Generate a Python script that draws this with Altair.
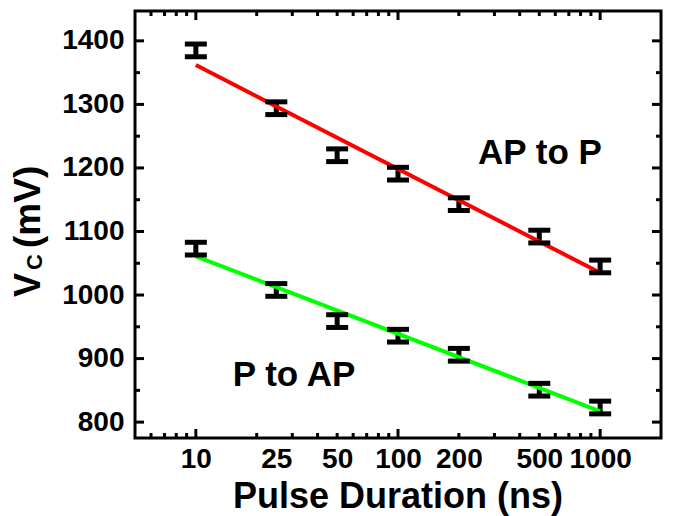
import altair as alt
import pandas as pd

# ---- data ----
durations = [10, 25, 50, 100, 200, 500, 1000]          # ns
ap_to_p = [1385, 1294, 1220, 1191, 1143, 1092, 1045]   # mV
ap_err = [10, 10, 10, 10, 10, 10, 10]
p_to_ap = [1073, 1008, 959, 936, 906, 851, 823]        # mV
pa_err = [10, 10, 10, 10, 10, 10, 10]

fit_x = [10, 1000]
ap_fit = [1362, 1035]
pa_fit = [1061, 817]

x_labels = [10, 25, 50, 100, 200, 500, 1000]
y_labels = [800, 900, 1000, 1100, 1200, 1300, 1400]
x_major_ticks = [10, 100, 1000]
x_minor_ticks = [6, 7, 8, 9, 20, 30, 40, 50, 60, 70, 80, 90,
                 200, 300, 400, 500, 600, 700, 800, 900]
y_major_ticks = [800, 900, 1000, 1100, 1200, 1300, 1400]
y_minor_ticks = [850, 950, 1050, 1150, 1250, 1350]

ann_text = ["AP to P", "P to AP"]
ann_x = [504, 30.6]
ann_y = [1223, 874]

# ---- layout ----
W, H = 526, 427
FONT = "Liberation Sans"
MAJ, MIN = 9, 5

xs = alt.Scale(type="log", domain=[5, 2000], nice=False)
ys = alt.Scale(domain=[775, 1447], nice=False, zero=False)

rows = []
for d, v, e in zip(durations, ap_to_p, ap_err):
    rows.append({"x": d, "v": v, "lo": v - e, "hi": v + e, "s": "AP to P"})
for d, v, e in zip(durations, p_to_ap, pa_err):
    rows.append({"x": d, "v": v, "lo": v - e, "hi": v + e, "s": "P to AP"})
df = pd.DataFrame(rows)

fit_df = pd.DataFrame({
    "x": fit_x + fit_x,
    "y": ap_fit + pa_fit,
    "s": ["AP"] * 2 + ["PA"] * 2,
})

xaxis = alt.Axis(values=x_labels, format="d", labelFont=FONT, labelFontWeight="bold",
                 labelFontSize=28, labelColor="black", labelPadding=7, ticks=False,
                 tickSize=0, domain=False, grid=False, title=None, labelOverlap=False,
                 labelFlush=False)
yaxis = alt.Axis(values=y_labels, format="d", labelFont=FONT, labelFontWeight="bold",
                 labelFontSize=28, labelColor="black", labelPadding=11, ticks=False,
                 tickSize=0, domain=False, grid=False, title=None, labelOverlap=False,
                 labelFlush=False)

bars = alt.Chart(df).mark_rule(color="black", strokeWidth=5, opacity=1).encode(
    x=alt.X("x:Q", scale=xs, axis=xaxis),
    y=alt.Y("lo:Q", scale=ys, axis=yaxis),
    y2="hi:Q",
)
cap_lo = alt.Chart(df).mark_tick(color="black", orient="horizontal", size=22, thickness=5,
                                 opacity=1).encode(
    x=alt.X("x:Q", scale=xs, axis=xaxis),
    y=alt.Y("lo:Q", scale=ys, axis=yaxis),
)
cap_hi = alt.Chart(df).mark_tick(color="black", orient="horizontal", size=22, thickness=5,
                                 opacity=1).encode(
    x=alt.X("x:Q", scale=xs, axis=xaxis),
    y=alt.Y("hi:Q", scale=ys, axis=yaxis),
)

fits = alt.Chart(fit_df).mark_line(strokeWidth=4).encode(
    x=alt.X("x:Q", scale=xs, axis=xaxis),
    y=alt.Y("y:Q", scale=ys, axis=yaxis),
    color=alt.Color("s:N", scale=alt.Scale(domain=["AP", "PA"], range=["#ff0000", "#00ff00"]),
                    legend=None),
    detail="s:N",
)

ann_df = pd.DataFrame({"t": ann_text, "x": ann_x, "y": ann_y})
ann = alt.Chart(ann_df).mark_text(font=FONT, fontWeight="bold", fontSize=35, color="black",
                                  align="center", baseline="middle").encode(
    x=alt.X("x:Q", scale=xs, axis=xaxis),
    y=alt.Y("y:Q", scale=ys, axis=yaxis),
    text="t:N",
)

def xticks(vals, length, top):
    d = pd.DataFrame({"x": vals})
    if top:
        yy = dict(y=alt.value(0), y2=alt.value(length))
    else:
        yy = dict(y=alt.value(H), y2=alt.value(H - length))
    return alt.Chart(d).mark_rule(color="black", strokeWidth=3).encode(
        x=alt.X("x:Q", scale=xs, axis=xaxis), **yy)

def yticks(vals, length, right):
    d = pd.DataFrame({"y": vals})
    if right:
        xx = dict(x=alt.value(W), x2=alt.value(W - length))
    else:
        xx = dict(x=alt.value(0), x2=alt.value(length))
    return alt.Chart(d).mark_rule(color="black", strokeWidth=3).encode(
        y=alt.Y("y:Q", scale=ys, axis=yaxis), **xx)

tick_layers = [
    xticks(x_major_ticks, MAJ, False), xticks(x_minor_ticks, MIN, False),
    xticks(x_major_ticks, MAJ, True), xticks(x_minor_ticks, MIN, True),
    yticks(y_major_ticks, MAJ, False), yticks(y_minor_ticks, MIN, False),
    yticks(y_major_ticks, MAJ, True), yticks(y_minor_ticks, MIN, True),
]

one = pd.DataFrame({"k": [0]})
ytitle_v = alt.Chart(one).mark_text(text="V", font=FONT, fontWeight="bold", fontSize=36,
                                    angle=270, align="left", baseline="alphabetic",
                                    color="black").encode(x=alt.value(-95), y=alt.value(286))
ytitle_c = alt.Chart(one).mark_text(text="C", font=FONT, fontWeight="bold", fontSize=22,
                                    angle=270, align="left", baseline="alphabetic",
                                    color="black").encode(x=alt.value(-93), y=alt.value(259))
ytitle_mv = alt.Chart(one).mark_text(text="(mV)", font=FONT, fontWeight="bold", fontSize=37,
                                     angle=270, align="left", baseline="alphabetic",
                                     color="black").encode(x=alt.value(-95), y=alt.value(237))
xtitle = alt.Chart(one).mark_text(text="Pulse Duration (ns)", font=FONT, fontWeight="bold",
                                  fontSize=36, align="center", baseline="alphabetic",
                                  color="black").encode(x=alt.value(W / 2), y=alt.value(508 - 11))

chart = alt.layer(
    bars, *tick_layers, fits, cap_lo, cap_hi, ann, ytitle_v, ytitle_c, ytitle_mv, xtitle
).properties(
    width=W, height=H,
    padding={"left": 135, "top": 11, "right": 13, "bottom": 78},
    autosize=alt.AutoSizeParams(type="none"),
    background="white",
).configure_view(stroke="black", strokeWidth=3)

chart.save("out.html", embed_options={"renderer": "svg", "actions": False})
